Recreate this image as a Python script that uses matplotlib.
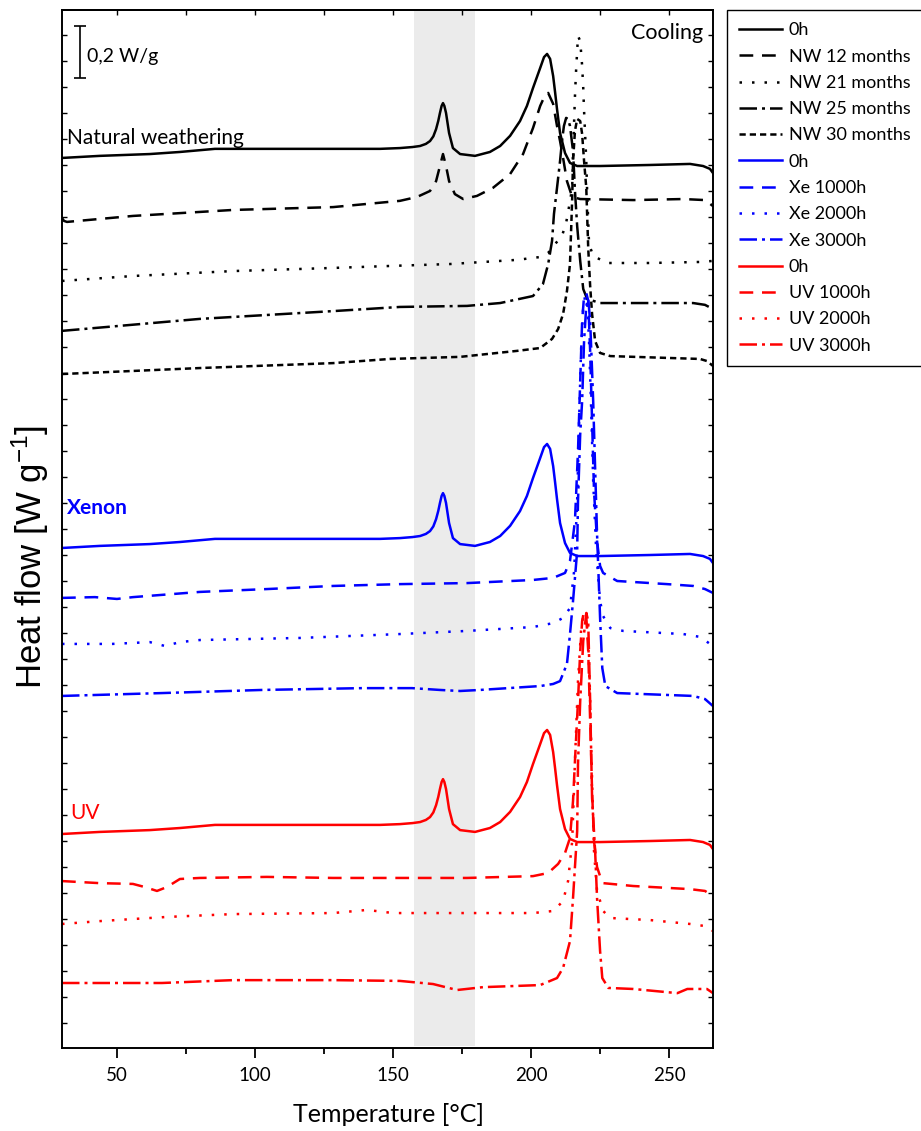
import matplotlib
matplotlib.use("Agg")
import matplotlib.pyplot as plt
from matplotlib.ticker import MultipleLocator, NullFormatter
import numpy as np

# ---------------- data: DSC cooling curves (stacked heat flow, W/g) ----------------
# unaged reference (0h); the same run is shown in every group with a vertical offset
temp_0h = [30.0, 43.7, 61.8, 72.7, 85.4, 116.2, 145.2, 152.4, 157.0, 159.7, 161.8, 163.3, 164.5, 165.5, 166.3,
           166.9, 167.5, 168.0, 168.5, 169.1, 169.6, 170.2, 171.6, 174.2, 179.6, 185.0, 188.7, 192.3, 195.9,
           198.4, 200.6, 203.2, 204.6, 205.7, 206.8, 207.9, 208.6, 209.3, 210.4, 212.2, 214.0, 216.6, 224.9,
           243.0, 257.5, 262.2, 264.7, 265.8]
hf_0h = [3.427, 3.435, 3.442, 3.450, 3.462, 3.462, 3.462, 3.465, 3.469, 3.473, 3.481, 3.492, 3.510, 3.538, 3.570,
         3.600, 3.627, 3.638, 3.627, 3.600, 3.565, 3.523, 3.465, 3.442, 3.435, 3.450, 3.473, 3.512, 3.569,
         3.627, 3.696, 3.773, 3.815, 3.827, 3.808, 3.742, 3.680, 3.615, 3.523, 3.446, 3.408, 3.396, 3.396,
         3.400, 3.404, 3.396, 3.385, 3.369]
offset_nw = 0.0
offset_xe = -1.5
offset_uv = -2.6

# natural weathering
temp_nw12 = [30.0, 30.7, 31.8, 55.7, 91.9, 128.2, 152.4, 158.6, 163.3, 165.5, 166.9, 168.0, 169.1, 170.2,
             172.3, 175.3, 180.3, 186.1, 192.3, 197.0, 200.6, 203.2, 205.0, 206.1, 207.9, 209.3, 210.4,
             211.5, 212.9, 214.8, 217.7, 236.9, 255.0, 262.9, 265.8]
hf_nw12 = [3.196, 3.185, 3.181, 3.204, 3.227, 3.238, 3.262, 3.277, 3.300, 3.338, 3.396, 3.442, 3.396, 3.338,
           3.288, 3.269, 3.281, 3.312, 3.365, 3.442, 3.542, 3.627, 3.669, 3.677, 3.635, 3.550, 3.492,
           3.427, 3.338, 3.277, 3.269, 3.265, 3.269, 3.265, 3.242]

temp_nw21 = [30.0, 55.7, 91.9, 128.2, 149.9, 170.5, 194.8, 203.2, 206.1, 208.6, 211.1, 212.6, 213.7, 214.8,
             215.1, 215.5, 215.8, 216.2, 216.6, 216.9, 217.7, 218.4, 218.8, 219.1, 219.5, 219.9, 220.2,
             220.6, 220.9, 222.4, 227.5, 243.0, 261.1, 265.8]
hf_nw21 = [2.954, 2.973, 2.992, 3.004, 3.012, 3.019, 3.035, 3.046, 3.062, 3.096, 3.127, 3.177, 3.242, 3.312,
           3.454, 3.569, 3.665, 3.762, 3.838, 3.896, 3.877, 3.781, 3.696, 3.608, 3.512, 3.415, 3.300,
           3.185, 3.096, 3.050, 3.023, 3.023, 3.027, 3.031]

temp_nw25 = [30.0, 79.9, 128.2, 152.4, 176.7, 188.7, 200.6, 204.2, 206.1, 207.5, 208.2, 209.3, 210.4, 211.1,
             211.8, 212.6, 213.3, 214.0, 215.1, 215.8, 216.6, 217.7, 218.8, 220.2, 224.9, 236.9, 258.6,
             262.9, 265.8]
hf_nw25 = [2.762, 2.808, 2.838, 2.854, 2.858, 2.869, 2.896, 2.942, 3.019, 3.108, 3.212, 3.312, 3.415, 3.492,
           3.550, 3.581, 3.577, 3.550, 3.454, 3.300, 3.165, 3.031, 2.923, 2.885, 2.869, 2.869, 2.869,
           2.862, 2.846]

temp_nw30 = [30.0, 79.9, 128.2, 148.8, 174.2, 194.8, 203.2, 207.5, 209.7, 211.5, 212.9, 214.0, 214.4, 214.8,
             215.1, 215.8, 216.6, 217.7, 218.4, 219.1, 219.9, 220.2, 220.6, 221.3, 222.0, 223.1, 224.9,
             228.6, 249.2, 261.1, 263.6, 265.8]
hf_nw30 = [2.596, 2.619, 2.638, 2.654, 2.662, 2.685, 2.696, 2.731, 2.769, 2.827, 2.915, 3.019, 3.146, 3.273,
           3.415, 3.531, 3.577, 3.569, 3.519, 3.415, 3.312, 3.212, 3.081, 2.935, 2.827, 2.723, 2.677,
           2.665, 2.658, 2.654, 2.646, 2.627]

# xenon arc exposure
temp_xe1000 = [30.0, 41.9, 49.9, 55.7, 79.9, 104.2, 128.2, 152.4, 176.7, 200.6, 207.9, 212.2, 214.0, 215.8,
               216.9, 217.7, 218.4, 219.1, 219.9, 220.6, 221.3, 222.0, 222.7, 223.8, 224.9, 226.0, 231.1,
               249.2, 258.6, 262.9, 265.8]
hf_xe1000 = [1.735, 1.738, 1.731, 1.738, 1.758, 1.769, 1.781, 1.788, 1.792, 1.804, 1.812, 1.831, 1.877, 2.031,
             2.300, 2.569, 2.800, 2.896, 2.908, 2.877, 2.685, 2.415, 2.146, 1.954, 1.858, 1.831, 1.800,
             1.788, 1.781, 1.769, 1.754]

temp_xe2000 = [30.0, 48.1, 61.8, 67.3, 72.7, 79.9, 116.2, 152.4, 176.7, 200.6, 207.9, 211.5, 214.0, 215.5,
               216.6, 217.3, 218.0, 218.8, 219.5, 220.2, 220.9, 221.7, 222.4, 223.5, 224.9, 226.0, 228.6,
               233.3, 255.0, 261.1, 265.8]
hf_xe2000 = [1.558, 1.558, 1.565, 1.550, 1.565, 1.573, 1.581, 1.596, 1.608, 1.623, 1.638, 1.658, 1.696, 1.838,
             2.108, 2.415, 2.685, 2.858, 2.896, 2.877, 2.723, 2.454, 2.185, 1.915, 1.723, 1.665, 1.619,
             1.608, 1.596, 1.585, 1.550]

temp_xe3000 = [30.0, 66.2, 102.4, 138.7, 156.8, 166.9, 174.2, 181.4, 203.2, 207.9, 210.4, 212.9, 214.0, 215.1,
               216.6, 216.9, 217.7, 218.4, 219.1, 219.9, 220.6, 221.3, 222.0, 222.4, 223.1, 223.8, 224.9,
               225.7, 226.8, 231.1, 258.6, 262.9, 265.8]
hf_xe3000 = [1.358, 1.369, 1.381, 1.388, 1.388, 1.381, 1.377, 1.381, 1.396, 1.404, 1.415, 1.481, 1.596, 1.723,
             1.915, 2.108, 2.365, 2.492, 2.723, 2.858, 2.885, 2.800, 2.608, 2.492, 2.235, 1.981, 1.658,
             1.465, 1.396, 1.369, 1.358, 1.346, 1.319]

# UV exposure
temp_uv1000 = [30.0, 43.7, 55.7, 60.0, 64.4, 68.0, 72.7, 79.9, 104.2, 128.2, 152.4, 176.7, 200.6, 206.1,
               209.7, 212.2, 214.0, 215.1, 215.8, 216.9, 217.7, 218.4, 219.1, 219.9, 220.6, 221.3, 222.0,
               222.7, 223.8, 224.9, 226.0, 236.9, 257.5, 262.9, 265.8]
hf_uv1000 = [0.646, 0.638, 0.635, 0.623, 0.608, 0.623, 0.654, 0.658, 0.662, 0.658, 0.658, 0.658, 0.665, 0.677,
             0.712, 0.754, 0.812, 0.954, 1.108, 1.338, 1.531, 1.646, 1.685, 1.665, 1.531, 1.262, 0.992,
             0.800, 0.700, 0.665, 0.638, 0.627, 0.615, 0.608, 0.588]

temp_uv2000 = [30.0, 43.7, 55.7, 68.0, 91.9, 128.2, 140.5, 149.9, 174.2, 200.6, 207.9, 211.5, 213.3, 214.8,
               215.8, 216.9, 218.0, 219.1, 219.9, 220.6, 221.3, 222.0, 222.7, 223.8, 226.0, 228.6, 243.0,
               257.5, 262.9, 265.8]
hf_uv2000 = [0.481, 0.492, 0.500, 0.508, 0.519, 0.523, 0.535, 0.523, 0.523, 0.523, 0.531, 0.569, 0.646, 0.800,
             1.108, 1.415, 1.608, 1.685, 1.677, 1.569, 1.338, 1.031, 0.762, 0.608, 0.531, 0.504, 0.496,
             0.481, 0.473, 0.454]

temp_uv3000 = [30.0, 66.2, 91.9, 128.2, 152.4, 164.4, 173.1, 182.5, 203.2, 209.3, 211.5, 214.0, 215.1, 216.6,
               216.9, 217.7, 218.8, 219.9, 220.6, 221.3, 222.0, 223.1, 223.8, 224.9, 225.7, 227.9, 236.9,
               252.9, 256.5, 263.6, 265.8]
hf_uv3000 = [0.254, 0.254, 0.265, 0.265, 0.262, 0.250, 0.227, 0.238, 0.246, 0.273, 0.312, 0.415, 0.581, 0.838,
             1.096, 1.338, 1.569, 1.677, 1.646, 1.338, 0.965, 0.762, 0.581, 0.377, 0.273, 0.235, 0.231,
             0.215, 0.231, 0.231, 0.215]

labels = ["0h", "NW 12 months", "NW 21 months", "NW 25 months", "NW 30 months",
          "0h", "Xe 1000h", "Xe 2000h", "Xe 3000h",
          "0h", "UV 1000h", "UV 2000h", "UV 3000h"]

crystallization_window = (157.5, 179.6)   # shaded temperature band, °C
scale_bar_wg = 0.2

# ---------------- styling ----------------
plt.rcParams["font.family"] = ["Lato", "DejaVu Sans"]
plt.rcParams["mathtext.fontset"] = "custom"
plt.rcParams["mathtext.rm"] = "Liberation Sans"
plt.rcParams["mathtext.it"] = "Liberation Sans"

LW = 1.8
SOLID = "-"
DASH = (0, (5.5, 3.5))
DOT = (0, (1, 4))
DASHDOT = (0, (7, 2, 1.2, 2))
SHORTDASH = (0, (2.5, 1.6))

BLACK, BLUE, RED = "black", "#0000ff", "#ff0000"

series = [
    (temp_0h, np.array(hf_0h) + offset_nw, BLACK, SOLID),
    (temp_nw12, hf_nw12, BLACK, DASH),
    (temp_nw21, hf_nw21, BLACK, DOT),
    (temp_nw25, hf_nw25, BLACK, DASHDOT),
    (temp_nw30, hf_nw30, BLACK, SHORTDASH),
    (temp_0h, np.array(hf_0h) + offset_xe, BLUE, SOLID),
    (temp_xe1000, hf_xe1000, BLUE, DASH),
    (temp_xe2000, hf_xe2000, BLUE, DOT),
    (temp_xe3000, hf_xe3000, BLUE, DASHDOT),
    (temp_0h, np.array(hf_0h) + offset_uv, RED, SOLID),
    (temp_uv1000, hf_uv1000, RED, DASH),
    (temp_uv2000, hf_uv2000, RED, DOT),
    (temp_uv3000, hf_uv3000, RED, DASHDOT),
]

W, H = 921, 1131
fig = plt.figure(figsize=(W / 100, H / 100), dpi=100)
ax = fig.add_axes([62 / W, 1 - 1048 / H, (713 - 62) / W, (1048 - 10) / H])

ax.axvspan(*crystallization_window, ymin=0.002, ymax=1, color="#ebebeb", lw=0, zorder=0)

for (t, hf, c, ls), lab in zip(series, labels):
    ax.plot(t, hf, color=c, linestyle=ls, lw=LW, label=lab,
            solid_joinstyle="round", dash_joinstyle="round", zorder=2)

ax.set_xlim(30.0, 265.8)
ax.set_ylim(0.004, 3.996)

# axes, ticks
for sp in ax.spines.values():
    sp.set_linewidth(1.4)
ax.xaxis.set_major_locator(MultipleLocator(50))
ax.xaxis.set_minor_locator(MultipleLocator(25))
ax.tick_params(axis="x", which="major", direction="out", length=7, width=1.3, labelsize=13.5, pad=7)
ax.tick_params(axis="x", which="minor", direction="out", length=4, width=1.3)
ax.yaxis.set_major_locator(MultipleLocator(0.1))
ax.yaxis.set_major_formatter(NullFormatter())
ax.tick_params(axis="y", which="major", direction="in", length=3.5, width=1.0, left=True, right=True)

top = ax.secondary_xaxis("top")
top.xaxis.set_major_locator(MultipleLocator(50))
top.xaxis.set_minor_locator(MultipleLocator(25))
top.tick_params(axis="x", which="both", direction="in", length=3.5, width=1.0, labeltop=False)
top.spines["top"].set_linewidth(1.4)

# axis titles
fig.text(388 / W, 1 - 1115 / H, "Temperature [°C]", ha="center", va="center", fontsize=18)
fig.text(30 / W, 1 - 557 / H, r"Heat flow [W g$^{-1}$]", ha="center", va="center",
         rotation=90, fontsize=25, family="Liberation Sans")

# group labels and annotations
ax.text(31.8, 3.481, "Natural weathering", color=BLACK, fontsize=15, va="baseline", ha="left")
ax.text(31.8, 2.058, "Xenon", color=BLUE, fontsize=15, fontweight="bold", va="baseline", ha="left")
ax.text(32.9, 0.885, "UV", color=RED, fontsize=15, va="baseline", ha="left")
ax.text(262.2, 3.885, "Cooling", color=BLACK, fontsize=15.5, va="baseline", ha="right")

bar_x, bar_top = 36.5, 3.935
ax.errorbar([bar_x], [bar_top - scale_bar_wg / 2], yerr=[scale_bar_wg / 2], color="black",
            lw=1.2, capsize=4, capthick=1.2, zorder=3)
ax.text(39.0, 3.796, "0,2 W/g", fontsize=14, va="baseline", ha="left")

leg = fig.legend(loc="upper left", bbox_to_anchor=(727 / W, 1 - 10 / H), borderaxespad=0,
                 frameon=True, fancybox=False, edgecolor="black", framealpha=1,
                 fontsize=13, handlelength=2.35, handletextpad=0.4, labelspacing=0.57,
                 borderpad=0.68)
leg.get_frame().set_linewidth(1.0)

fig.savefig("out.png", dpi=100)
